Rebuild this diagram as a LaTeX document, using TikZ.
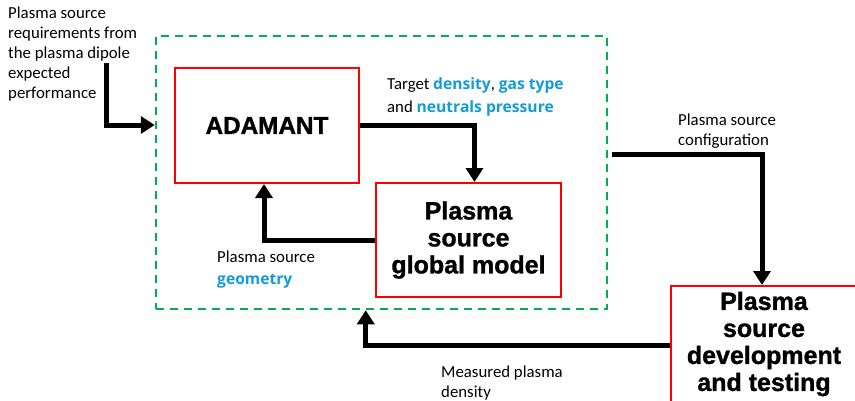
\documentclass[tikz,border=0pt]{standalone}
\usepackage{fontspec}
\setmainfont{Carlito}
\newfontfamily\headfont{Liberation Sans Bold}[FakeBold=1.2]
\newfontfamily\accentfont{Open Sans}[Scale=0.93]
\usetikzlibrary{arrows.meta,calc}
\definecolor{accentblue}{RGB}{20,155,215}
\definecolor{framegreen}{RGB}{0,176,80}
\newcommand\hl[1]{{\accentfont\bfseries\color{accentblue}#1}}
\begin{document}
\begin{tikzpicture}[x=1pt,y=-1pt,
  block/.style={draw=red, line width=2pt, inner sep=0pt, align=center,
    font=\headfont\fontsize{25}{27}\selectfont},
  loop/.style={draw=framegreen, line width=2.5pt, dash pattern=on 8pt off 6pt, inner sep=0pt},
  flow/.style={line width=5pt, -{Triangle[width=17pt,length=14pt]}},
  lbl/.style={anchor=base west, inner sep=0pt, align=left,
    font=\fontsize{16.8}{20}\selectfont}]
\useasboundingbox (0,0) rectangle (855,400);
\clip (0,0) rectangle (855,400);

% design loop frame
\node[loop, minimum width=451pt, minimum height=273pt] (frame) at (381.5,172.5) {};

% blocks
\node[block, minimum width=184pt, minimum height=115pt,
  font=\headfont\fontsize{24.3}{27}\selectfont] (ad) at (267,125.5) {ADAMANT};
\node[block, minimum width=185pt, minimum height=114pt] (gm) at (468.5,240) {Plasma\\source\\global model};
\node[block, minimum width=186pt, minimum height=116pt] (dev) at (764,344) {Plasma\\source\\development\\and testing};

% labels (anchored at the baseline of their last line)
\node[lbl] (lreq) at (8,98) {Plasma source\\requirements from\\the plasma dipole\\expected\\performance};
\node[lbl, font=\fontsize{16.8}{23}\selectfont] (ltarget) at (387,112) {Target \hl{density}, \hl{gas type}\\and \hl{neutrals pressure}};
\node[lbl, font=\fontsize{16.8}{22}\selectfont] (lgeom) at (217,284) {Plasma source\\\hl{geometry}};
\node[lbl] (lcfg) at (678,145) {Plasma source\\configuration};
\node[lbl] (lmeas) at (441,397) {Measured plasma\\density};

% connectors
\coordinate (req) at (106,63);
\coordinate (cfg) at (612,154);
\draw[flow] (req) |- (frame.west |- 0,125);
\draw[flow] (ad.east) -| ([xshift=6pt]gm.north);
\draw[flow] (gm.west) -| ([xshift=-3pt]ad.south);
\draw[flow] (cfg) -| ([xshift=-2pt]dev.north);
\draw[flow] (dev.west |- 0,345) -| ($(frame.south west)+(211,0)$);
\end{tikzpicture}
\end{document}
